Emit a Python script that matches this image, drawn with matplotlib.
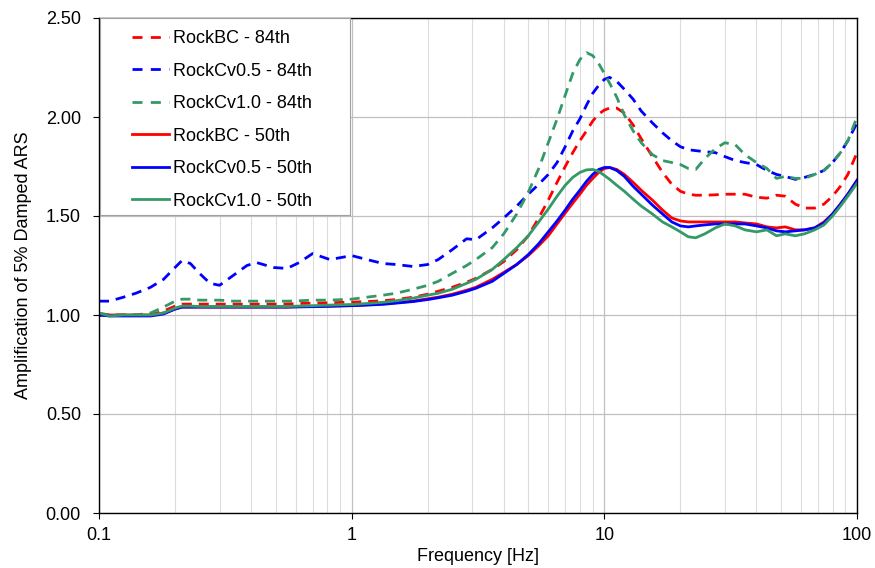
import matplotlib
matplotlib.use("Agg")
import matplotlib.pyplot as plt
from matplotlib.ticker import FixedLocator, NullFormatter
from matplotlib.lines import Line2D
from matplotlib.patches import Rectangle

plt.rcParams['font.family'] = ['Liberation Sans', 'DejaVu Sans']

freq = [0.1, 0.11, 0.125, 0.14, 0.16, 0.18, 0.2, 0.213, 0.23, 0.25, 0.275, 0.3,
        0.34, 0.385, 0.42, 0.49, 0.555, 0.62, 0.7, 0.82, 1.0, 1.15, 1.33, 1.5,
        1.75, 2.0, 2.2, 2.5, 2.85, 3.1, 3.6, 4.0, 4.5, 5.0, 5.5, 6.0, 6.5, 7.0,
        7.5, 8.0, 8.5, 9.0, 9.5, 10.0, 10.5, 11.2, 12.0, 13.0, 14.0, 15.5, 17.0,
        18.5, 20.0, 21.5, 23.0, 25.0, 27.5, 30.0, 33.0, 36.0, 40.0, 44.0, 48.0,
        52.0, 57.0, 62.0, 68.0, 74.0, 80.0, 86.0, 92.0, 100.0]

bc_84 = [1.0, 1.0, 1.0, 1.0, 1.0, 1.02, 1.045, 1.055, 1.055, 1.055, 1.055, 1.055,
         1.055, 1.055, 1.055, 1.055, 1.056, 1.058, 1.06, 1.062, 1.065, 1.068, 1.072, 1.078,
         1.09, 1.105, 1.12, 1.14, 1.165, 1.185, 1.23, 1.27, 1.33, 1.40, 1.49, 1.58, 1.67, 1.75,
         1.82, 1.88, 1.93, 1.98, 2.015, 2.035, 2.045, 2.045, 2.02, 1.96, 1.89, 1.80, 1.72,
         1.66, 1.625, 1.61, 1.605, 1.605, 1.607, 1.61, 1.61, 1.61, 1.595, 1.59, 1.605,
         1.60, 1.56, 1.54, 1.54, 1.56, 1.60, 1.65, 1.71, 1.82]

cv05_84 = [1.07, 1.07, 1.09, 1.11, 1.14, 1.18, 1.24, 1.275, 1.26, 1.21, 1.16, 1.15,
           1.20, 1.25, 1.265, 1.24, 1.235, 1.265, 1.31, 1.28, 1.30, 1.28, 1.26, 1.255,
           1.245, 1.255, 1.28, 1.33, 1.385, 1.38, 1.44, 1.49, 1.55, 1.61, 1.66, 1.71, 1.77, 1.85,
           1.93, 1.99, 2.06, 2.12, 2.16, 2.19, 2.20, 2.18, 2.14, 2.09, 2.03, 1.97, 1.92,
           1.88, 1.85, 1.835, 1.83, 1.825, 1.82, 1.80, 1.78, 1.77, 1.76, 1.73, 1.71,
           1.70, 1.685, 1.695, 1.71, 1.73, 1.77, 1.82, 1.88, 1.97]

cv10_84 = [1.01, 1.0, 1.0, 1.0, 1.01, 1.04, 1.07, 1.08, 1.08, 1.075, 1.075, 1.075,
           1.07, 1.07, 1.07, 1.07, 1.07, 1.072, 1.075, 1.075, 1.08, 1.09, 1.10, 1.11,
           1.13, 1.15, 1.17, 1.21, 1.25, 1.28, 1.34, 1.41, 1.51, 1.62, 1.74, 1.87, 1.99, 2.11,
           2.22, 2.29, 2.325, 2.31, 2.27, 2.22, 2.17, 2.10, 2.01, 1.93, 1.87, 1.81, 1.78,
           1.77, 1.76, 1.74, 1.735, 1.79, 1.84, 1.87, 1.86, 1.81, 1.77, 1.74, 1.69,
           1.70, 1.69, 1.69, 1.71, 1.73, 1.77, 1.82, 1.88, 2.00]

bc_50 = [1.0, 1.0, 1.0, 1.0, 1.0, 1.01, 1.03, 1.04, 1.04, 1.04, 1.04, 1.04,
         1.04, 1.04, 1.04, 1.04, 1.04, 1.042, 1.043, 1.045, 1.048, 1.052, 1.056, 1.062,
         1.07, 1.082, 1.09, 1.105, 1.125, 1.14, 1.18, 1.215, 1.255, 1.30, 1.35, 1.40, 1.46, 1.515,
         1.565, 1.61, 1.655, 1.69, 1.72, 1.74, 1.745, 1.735, 1.71, 1.67, 1.63, 1.58, 1.53,
         1.49, 1.475, 1.47, 1.47, 1.47, 1.47, 1.47, 1.47, 1.465, 1.46, 1.445, 1.44,
         1.445, 1.43, 1.43, 1.44, 1.47, 1.51, 1.56, 1.61, 1.68]

cv05_50 = [1.0, 0.995, 0.995, 0.995, 0.995, 1.005, 1.03, 1.04, 1.04, 1.04, 1.04, 1.04,
           1.04, 1.04, 1.04, 1.04, 1.04, 1.041, 1.042, 1.044, 1.047, 1.05, 1.054, 1.06,
           1.068, 1.078, 1.087, 1.10, 1.12, 1.135, 1.17, 1.21, 1.255, 1.305, 1.36, 1.42, 1.475, 1.53,
           1.585, 1.63, 1.675, 1.71, 1.735, 1.745, 1.745, 1.73, 1.70, 1.65, 1.61, 1.555, 1.51,
           1.47, 1.45, 1.445, 1.45, 1.455, 1.46, 1.46, 1.46, 1.46, 1.45, 1.44, 1.425,
           1.42, 1.425, 1.43, 1.44, 1.465, 1.51, 1.56, 1.61, 1.68]

cv10_50 = [1.01, 0.995, 1.0, 1.0, 1.0, 1.01, 1.035, 1.045, 1.045, 1.043, 1.043, 1.043,
           1.043, 1.043, 1.043, 1.043, 1.043, 1.045, 1.047, 1.05, 1.053, 1.058, 1.064, 1.072,
           1.085, 1.10, 1.11, 1.13, 1.16, 1.18, 1.23, 1.28, 1.34, 1.40, 1.47, 1.535, 1.60, 1.655,
           1.695, 1.72, 1.733, 1.735, 1.725, 1.705, 1.685, 1.655, 1.625, 1.585, 1.55, 1.51, 1.47,
           1.445, 1.42, 1.395, 1.39, 1.41, 1.44, 1.46, 1.45, 1.43, 1.42, 1.43, 1.40,
           1.41, 1.40, 1.41, 1.43, 1.455, 1.50, 1.55, 1.60, 1.665]

labels = ["RockBC - 84th", "RockCv0.5 - 84th", "RockCv1.0 - 84th",
          "RockBC - 50th", "RockCv0.5 - 50th", "RockCv1.0 - 50th"]
x_ticks = [0.1, 1, 10, 100]
x_ticklabels = ["0.1", "1", "10", "100"]
y_ticks = [0.0, 0.5, 1.0, 1.5, 2.0, 2.5]

RED, BLUE, GREEN = "#ff0000", "#0000ff", "#339966"
FS = 13

W, H = 875, 568
fig = plt.figure(figsize=(W / 100, H / 100), dpi=100)
ax = fig.add_axes([99 / W, 55 / H, 758 / W, 495 / H])

series = [(bc_84, RED, '--'), (cv05_84, BLUE, '--'), (cv10_84, GREEN, '--'),
          (bc_50, RED, '-'), (cv05_50, BLUE, '-'), (cv10_50, GREEN, '-')]
handles = []
for (vals, c, ls), lab in zip(series, labels):
    if ls == '--':
        ax.plot(freq, vals, color=c, lw=2.0, ls='--', dashes=(3.6, 2.5))
        handles.append(Line2D([], [], color=c, lw=2.0, ls='--', dashes=(3.6, 3.0)))
    else:
        ax.plot(freq, vals, color=c, lw=2.0, ls='-')
        handles.append(Line2D([], [], color=c, lw=2.0, ls='-'))

ax.set_xscale('log')
ax.set_xlim(0.1, 100)
ax.set_ylim(0, 2.5)
ax.set_xticks(x_ticks)
ax.set_xticklabels(x_ticklabels)
minors = [m * d for d in [0.1, 1, 10] for m in range(2, 10)]
ax.xaxis.set_minor_locator(FixedLocator(minors))
ax.xaxis.set_minor_formatter(NullFormatter())
ax.set_yticks(y_ticks)
ax.set_yticklabels([f"{v:.2f}" for v in y_ticks])

ax.grid(True, which='major', axis='both', color='#c0c0c0', lw=0.9)
ax.grid(True, which='minor', axis='x', color='#dcdcdc', lw=0.8)
ax.set_axisbelow(True)

for s in ax.spines.values():
    s.set_color('black')
    s.set_linewidth(1.0)

ax.tick_params(axis='y', which='major', direction='out', length=4, width=0.8,
               labelsize=FS, colors='black', pad=9)
ax.tick_params(axis='x', which='major', direction='out', length=4, width=0.8,
               labelsize=FS, colors='black', pad=6)
ax.tick_params(axis='x', which='minor', length=0)
ax.set_xlabel("Frequency [Hz]", fontsize=FS, labelpad=3)
ax.set_ylabel("Amplification of 5% Damped ARS", fontsize=FS, labelpad=10)

# legend frame
frame = Rectangle((100 / W, 1 - 215 / H), 250 / W, 197 / H, transform=fig.transFigure,
                  facecolor='white', edgecolor='#a0a0a0', lw=0.8, zorder=5)
fig.patches.append(frame)

leg = fig.legend(handles, labels, loc='upper left',
                 bbox_to_anchor=(132 / W, 1 - 30 / H), bbox_transform=fig.transFigure,
                 borderaxespad=0.0, borderpad=0.0, fontsize=FS, frameon=False,
                 handlelength=2.05, handletextpad=0.2, labelspacing=0.86)
leg.set_zorder(6)

fig.savefig("out.png", dpi=100)
